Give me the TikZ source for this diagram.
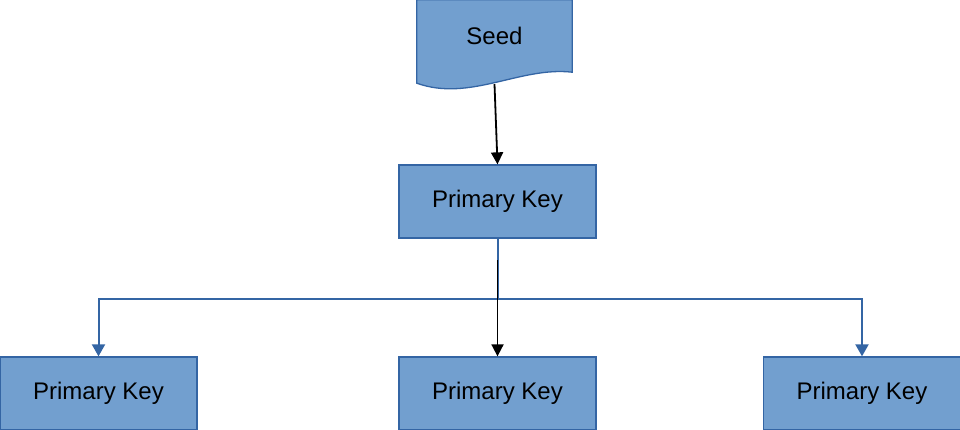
\documentclass[tikz,border=0pt]{standalone}
\usepackage{fontspec}
\setmainfont{Liberation Sans}
\usetikzlibrary{arrows.meta}
\definecolor{keyfill}{HTML}{729FCF}
\definecolor{keyline}{HTML}{3465A4}

\begin{document}
\begin{tikzpicture}[x=1pt, y=-1pt, font=\fontsize{24}{28}\selectfont,
  keybox/.style={draw=keyline, fill=keyfill, line width=1.3pt, minimum width=197pt, minimum height=73pt, inner sep=0pt},
  blackarrow/.style={line width=1.8pt, -{Triangle[width=12pt,length=12pt]}},
  bluearrow/.style={draw=keyline, line width=2pt, -{Triangle[width=13pt,length=12pt]}}]
\useasboundingbox (0,0) rectangle (960,429);
% seed document shape
\node (seed)[inner sep=0pt, minimum width=155pt, minimum height=84pt] at (494.5,42) {};
\filldraw[draw=keyline, fill=keyfill, line width=1.3pt] (seed.north west) -- (seed.north east)
  -- ([yshift=12pt]seed.south east) .. controls +(-52,-6) and +(53,19) .. ([yshift=1pt]seed.south west) -- cycle;
\node (seedtext) at ([yshift=6pt]seed.center) {Seed};
% keys
\node (pk)[keybox] at (497.5,201.5) {Primary Key};
\node (leftkey)[keybox] at (98.5,393.5) {Primary Key};
\node (midkey)[keybox] at (497.5,393.5) {Primary Key};
\node (rightkey)[keybox] at (862,393.5) {Primary Key};
\coordinate (split) at (497.5,260);
\draw[blackarrow] (seed.south) -- (pk.north);
\draw[bluearrow] (pk.south) -- ++(0,60) -| (leftkey.north);
\draw[bluearrow] (pk.south) -- ++(0,60) -| (rightkey.north);
\draw[blackarrow] (split) -- (midkey.north);
\end{tikzpicture}
\end{document}
